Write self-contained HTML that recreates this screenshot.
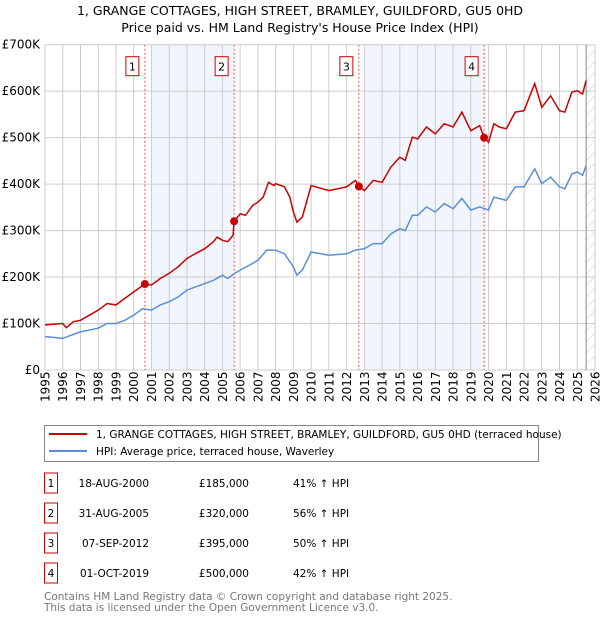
<!DOCTYPE html>
<html><head><meta charset="utf-8"><style>
body{margin:0;background:#fff;font-family:"DejaVu Sans","Liberation Sans",sans-serif;}
svg text{font-family:"DejaVu Sans","Liberation Sans",sans-serif;}
</style></head><body>
<svg id="c" width="600" height="620" xmlns="http://www.w3.org/2000/svg"></svg>
<script>
const hpiYears=[1995,1996,1996.5,1997,1998,1998.5,1999,1999.5,2000,2000.5,2001,2001.5,2002,2002.5,2003,2003.5,2004,2004.5,2005,2005.3,2005.7,2006,2006.5,2007,2007.5,2008,2008.5,2009,2009.2,2009.5,2010,2011,2012,2012.5,2013,2013.5,2014,2014.5,2015,2015.3,2015.7,2016,2016.5,2017,2017.5,2018,2018.5,2019,2019.5,2020,2020.3,2020.6,2021,2021.5,2022,2022.6,2023,2023.5,2024,2024.3,2024.7,2025,2025.3,2025.5];
const hpiValues=[72,68,75,82,90,100,100,107,118,132,129,140,147,157,172,179,186,193,204,197,208,215,225,236,258,258,250,222,204,215,254,247,250,258,261,272,272,293,304,300,333,333,351,340,358,347,369,344,351,344,372,369,365,394,394,433,401,415,394,390,422,426,419,440];
const priceYears=[1995,1996,1996.2,1996.6,1997,1997.5,1998,1998.5,1999,1999.5,2000,2000.63,2001,2001.5,2002,2002.5,2003,2003.5,2004,2004.5,2004.7,2005,2005.3,2005.6,2005.66,2006,2006.3,2006.7,2007,2007.3,2007.6,2007.9,2008,2008.5,2008.8,2009,2009.2,2009.5,2010,2011,2012,2012.5,2012.69,2013,2013.5,2014,2014.5,2015,2015.3,2015.7,2016,2016.5,2017,2017.5,2018,2018.5,2019,2019.5,2019.75,2020,2020.3,2020.6,2021,2021.5,2022,2022.6,2023,2023.5,2024,2024.3,2024.7,2025,2025.3,2025.5];
const priceValues=[97,100,91,104,107,118,129,143,140,154,168,185,183,197,208,222,240,251,261,276,286,279,276,290,320,336,333,354,361,372,404,397,401,394,372,340,318,329,397,386,394,408,395,386,408,404,437,458,451,501,497,523,508,530,523,555,515,526,500,490,530,523,519,555,558,616,565,590,558,555,598,601,594,623];
const saleLabels=["1","2","3","4"];
const saleYears=[2000.63,2005.66,2012.69,2019.75];
const saleValues=[185,320,395,500];
const saleDates=["18-AUG-2000","31-AUG-2005","07-SEP-2012","01-OCT-2019"];
const salePrices=["£185,000","£320,000","£395,000","£500,000"];
const salePcts=["41% ↑ HPI","56% ↑ HPI","50% ↑ HPI","42% ↑ HPI"];
const yTicks=[0,100,200,300,400,500,600,700];
const yTickLabels=["£0","£100K","£200K","£300K","£400K","£500K","£600K","£700K"];
const shadeStarts=[2001,2013];
const shadeEnds=[2005.66,2019.75];

const NS="http://www.w3.org/2000/svg";
const svg=document.getElementById('c');
const L=45,R=595,T=44.7,B=370;
const X=y=>L+(y-1995)*(R-L)/31;
const Y=v=>B-v*(B-T)/700;
function el(t,a,p){const e=document.createElementNS(NS,t);for(const k in a)e.setAttribute(k,a[k]);(p||svg).appendChild(e);return e;}
function tx(x,y,s,a){const e=el('text',Object.assign({x:x,y:y},a||{}));e.textContent=s;return e;}

let t=tx(300,15,"1, GRANGE COTTAGES, HIGH STREET, BRAMLEY, GUILDFORD, GU5 0HD",{"text-anchor":"middle","font-size":"12.5"});


t=tx(300,32,"Price paid vs. HM Land Registry's House Price Index (HPI)",{"text-anchor":"middle","font-size":"12.5"});



// defs hatch
const defs=el('defs',{});
const pat=el('pattern',{id:'h',width:8,height:8,patternUnits:'userSpaceOnUse',patternTransform:'rotate(45)'},defs);
el('line',{x1:0,y1:0,x2:0,y2:8,stroke:'#ccc','stroke-width':1},pat);

for(let i=0;i<shadeStarts.length;i++){
 const r=el('rect',{x:X(shadeStarts[i]),y:T,width:X(shadeEnds[i])-X(shadeStarts[i]),height:B-T,fill:'#eef3fc',opacity:0.8});
 
 
}
const hr=el('rect',{x:X(2025.5),y:T,width:R-X(2025.5),height:B-T,fill:'url(#h)'});



for(let yr=1995;yr<=2026;yr++){
 el('line',{x1:X(yr),y1:T,x2:X(yr),y2:B,stroke:'#ccc','stroke-width':1});
 const lb=tx(0,0,String(yr),{transform:`translate(${X(yr)+4.5},${B+32}) rotate(-90)`,"font-size":"12"});
 
 
}
yTicks.forEach((v,i)=>{
 el('line',{x1:L,y1:Y(v),x2:R,y2:Y(v),stroke:'#ccc','stroke-width':1});
 const lb=tx(L-5,Y(v)+4,yTickLabels[i],{"text-anchor":"end","font-size":"12"});
 
 
});
el('line',{x1:X(2025.5),y1:T,x2:X(2025.5),y2:B,stroke:'#888','stroke-width':1});

saleYears.forEach((s,i)=>{
 const ln=el('line',{x1:X(s),y1:T,x2:X(s),y2:B,stroke:'#e55','stroke-width':1,'stroke-dasharray':'2,2'});
 
 
 const bx=el('rect',{x:X(s)-19,y:T+12,width:13,height:19,fill:'#fff',stroke:'#c00','stroke-width':1});
 
 
 tx(X(s)-12.5,T+26,saleLabels[i],{"text-anchor":"middle","font-size":"11"});
});

const pts=(xs,vs)=>xs.map((x,i)=>X(x).toFixed(1)+','+Y(vs[i]).toFixed(1)).join(' ');
const hl=el('polyline',{points:pts(hpiYears,hpiValues),fill:'none',stroke:'#5b8fd4','stroke-width':1.5});


const pl=el('polyline',{points:pts(priceYears,priceValues),fill:'none',stroke:'#cc0000','stroke-width':1.5});


saleYears.forEach((s,i)=>{
 const c=el('circle',{cx:X(s),cy:Y(saleValues[i]),r:4,fill:'#cc0000'});
 
 
});

// legend
const lg=el('g',{});


el('rect',{x:44.5,y:425.5,width:494,height:36,fill:'#fff',stroke:'#888'},lg);
el('line',{x1:49,y1:434,x2:87,y2:434,stroke:'#cc0000','stroke-width':2},lg);
el('line',{x1:49,y1:451,x2:87,y2:451,stroke:'#5b8fd4','stroke-width':2},lg);
t=tx(96,438,"1, GRANGE COTTAGES, HIGH STREET, BRAMLEY, GUILDFORD, GU5 0HD (terraced house)",{"font-size":"10.5"});


t=tx(96,455,"HPI: Average price, terraced house, Waverley",{"font-size":"10.5"});



// table
saleLabels.forEach((s,i)=>{
 const cy=483+i*30;
 const r=el('rect',{x:44.5,y:cy-10,width:13,height:20,fill:'#fff',stroke:'#c00'});
 
 
 tx(51,cy+4,s,{"text-anchor":"middle","font-size":"10.5"});
 tx(149,cy+4,saleDates[i],{"text-anchor":"end","font-size":"10.5"});
 tx(249,cy+4,salePrices[i],{"text-anchor":"end","font-size":"10.5"});
 tx(293,cy+4,salePcts[i],{"font-size":"10.5"});
});
t=tx(44,600,"Contains HM Land Registry data © Crown copyright and database right 2025.",{"font-size":"10.5",fill:"#777"});


t=tx(44,611,"This data is licensed under the Open Government Licence v3.0.",{"font-size":"10.5",fill:"#777"});


</script>
</body></html>
